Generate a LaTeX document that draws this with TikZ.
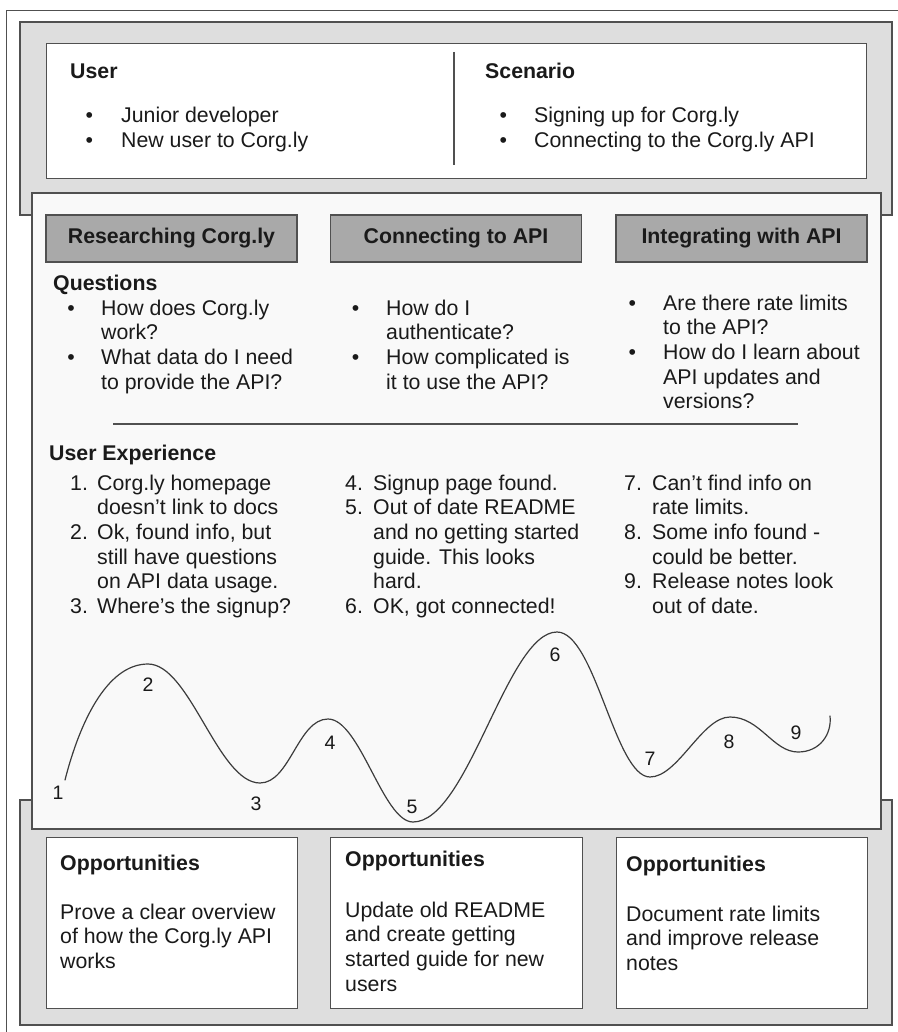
\documentclass[tikz,border=0pt]{standalone}
\usepackage{fontspec}
\setmainfont{Liberation Sans}
\definecolor{edge}{HTML}{505050}
\definecolor{panelgray}{HTML}{DEDEDE}
\definecolor{hdrgray}{HTML}{A9A9A9}
\definecolor{paper}{HTML}{F9F9F9}
\definecolor{ink}{HTML}{1A1A1A}
\newcommand\bodyfont{\fontsize{21.3}{25}\selectfont}
% one text line per node, baselines 24.7pt apart
\newcommand\textrows[5]{%
  \foreach \tline [count=\k] in {#5} {%
    \node[#4] (#1-\k) at (#2, {#3+(\k-1)*24.7}) {\tline};}}
\begin{document}
\begin{tikzpicture}[x=1pt,y=-1pt,
  panel/.style={draw=edge, line width=1.1pt, fill=panelgray},
  card/.style={draw=edge, line width=1.1pt, fill=white, anchor=north west, inner sep=0pt},
  hdrbox/.style={draw=edge, line width=1.1pt, fill=hdrgray, minimum width=251pt,
    minimum height=47pt, inner sep=0pt, font=\bodyfont\bfseries, text=ink},
  txt/.style={anchor=base west, inner sep=0pt, font=\bodyfont, text=ink},
  bold/.style={txt, font=\bodyfont\bfseries},
  bul/.style={anchor=base, inner sep=0pt, font=\bodyfont, text=ink},
  num/.style={anchor=center, inner sep=0pt, font=\fontsize{19.5}{22}\selectfont, text=ink},
  rule/.style={draw=edge, line width=1.1pt},
  wave/.style={draw=ink!85, line width=1.2pt, line cap=round}]
\useasboundingbox (0,0) rectangle (897,1032);

% outer frame
\draw[edge, line width=0.9pt] (6,1040) -- (6,10) -- (905,10);

% background panels
\path[panel] (20,22) rectangle (892,215);
\path[panel] (20,800) rectangle (892,1025);
\path[draw=edge, line width=1.1pt, fill=paper] (32,193) rectangle (881,829);

% user / scenario card
\node[card, minimum width=820pt, minimum height=135pt] (top) at (46,43) {};
\coordinate (divtop) at (454,52);
\coordinate (divbot) at (454,165);
\draw[rule] (divtop) -- (divbot);

\node[bold] (user) at (70,79) {User};
\node[bul] (ub1) at (89.3,123) {\textbullet};
\node[bul] (ub2) at (89.3,148) {\textbullet};
\textrows{ul}{121}{123}{txt}{Junior developer, New user to Corg.ly}

\node[bold] (scen) at (485,79) {Scenario};
\node[bul] (sb1) at (503.3,123) {\textbullet};
\node[bul] (sb2) at (503.3,148) {\textbullet};
\textrows{sl}{534}{123}{txt}{Signing up for Corg.ly, Connecting to the Corg.ly API}

% phase headers
\node[hdrbox] (h1) at (171.5,238.5) {Researching Corg.ly};
\node[hdrbox] (h2) at (456,238.5) {Connecting to API};
\node[hdrbox] (h3) at (741.5,238.5) {Integrating with API};

% questions
\node[bold] (qh) at (53,290) {Questions};
\node[bul] (qb1) at (71,315) {\textbullet};
\node[bul] (qb2) at (71,364.4) {\textbullet};
\textrows{qa}{101}{315}{txt}{How does Corg.ly, work?, What data do I need, to provide the API?}
\node[bul] (qb3) at (355.7,315) {\textbullet};
\node[bul] (qb4) at (355.7,364.4) {\textbullet};
\textrows{qb}{386}{315}{txt}{How do I, authenticate?, How complicated is, it to use the API?}
\node[bul] (qb5) at (632.3,310) {\textbullet};
\node[bul] (qb6) at (632.3,359.4) {\textbullet};
\textrows{qc}{663}{310}{txt}{Are there rate limits, to the API?, How do I learn about, API updates and, versions?}

\coordinate (sepl) at (113,424);
\coordinate (sepr) at (798,424);
\draw[rule] (sepl) -- (sepr);

% user experience
\node[bold] (uxh) at (49,460) {User Experience};
\node[txt] (n1) at (70,490) {1.};
\node[txt] (n2) at (70,539.4) {2.};
\node[txt] (n3) at (70,613.5) {3.};
\textrows{ua}{97}{490}{txt}{Corg.ly homepage, doesn’t link to docs, {Ok, found info, but}, still have questions, on API data usage., Where’s the signup?}
\node[txt] (n4) at (345,490) {4.};
\node[txt] (n5) at (345,514.7) {5.};
\node[txt] (n6) at (345,613.5) {6.};
\textrows{ub}{373}{490}{txt}{Signup page found., Out of date README, and no getting started, guide. This looks, hard., {OK, got connected!}}
\node[txt] (n7) at (624,490) {7.};
\node[txt] (n8) at (624,539.4) {8.};
\node[txt] (n9) at (624,588.8) {9.};
\textrows{uc}{652}{490}{txt}{Can’t find info on, rate limits., Some info found -, could be better., Release notes look, out of date.}

% experience curve
\coordinate (k1) at (65,780);
\coordinate (k2) at (148,664);
\coordinate (k3) at (260,783);
\coordinate (k4) at (328,719);
\coordinate (k5) at (413,822);
\coordinate (k6) at (557,632);
\coordinate (k7) at (650,777);
\coordinate (k8) at (730,717);
\coordinate (k9) at (798,752);
\coordinate (kend) at (830,716);
\draw[wave] (k1) .. controls +(14,-55) and +(-42,0) .. (k2)
  .. controls +(42,0) and +(-42,0) .. (k3)
  .. controls +(30,0) and +(-30,0) .. (k4)
  .. controls +(32,0) and +(-30,0) .. (k5)
  .. controls +(55,0) and +(-50,0) .. (k6)
  .. controls +(38,0) and +(-35,0) .. (k7)
  .. controls +(28,0) and +(-28,0) .. (k8)
  .. controls +(30,0) and +(-25,0) .. (k9)
  .. controls +(22,0) and +(2,18) .. (kend);

\node[num] (l1) at (58,793) {1};
\node[num] (l2) at (148,685) {2};
\node[num] (l3) at (256,804) {3};
\node[num] (l4) at (330,743) {4};
\node[num] (l5) at (412,807) {5};
\node[num] (l6) at (555,655) {6};
\node[num] (l7) at (650,759) {7};
\node[num] (l8) at (729,742) {8};
\node[num] (l9) at (796,733) {9};

% opportunities
\node[card, minimum width=251pt, minimum height=171pt] (o1) at (46,837) {};
\node[card, minimum width=252pt, minimum height=171pt] (o2) at (330,837) {};
\node[card, minimum width=251pt, minimum height=171pt] (o3) at (616,837) {};

\node[bold] (o1h) at (60,870) {Opportunities};
\textrows{oa}{60}{919}{txt}{Prove a clear overview, of how the Corg.ly API, works}
\node[bold] (o2h) at (345,866) {Opportunities};
\textrows{ob}{345}{917}{txt}{Update old README, and create getting, started guide for new, users}
\node[bold] (o3h) at (626,871) {Opportunities};
\textrows{oc}{626}{921}{txt}{Document rate limits, and improve release, notes}
\end{tikzpicture}
\end{document}
